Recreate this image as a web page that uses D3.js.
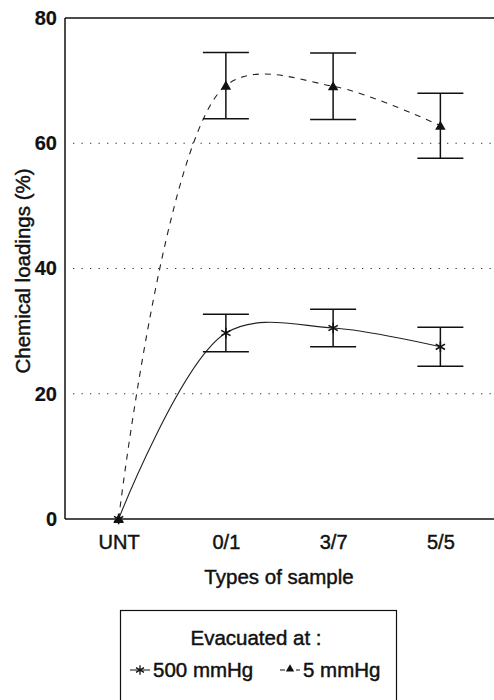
<!DOCTYPE html>
<html>
<head>
<meta charset="utf-8">
<script src="https://cdn.jsdelivr.net/npm/d3@7"></script>
<style>
  body { margin: 0; background: #fff; }
  svg text { font-family: "Liberation Sans", Arial, sans-serif; fill: #111; stroke: #111; stroke-width: 0.45px; }
</style>
</head>
<body>
<div id="chart"></div>
<script>
// data
const categories = ["UNT", "0/1", "3/7", "5/5"];
const low500 = [0, 29.7, 30.5, 27.5];          // 500 mmHg (star, solid)
const low500Err = [0, 3.0, 3.0, 3.1];
const low5 = [0, 69.2, 69.1, 62.8];            // 5 mmHg (triangle, dashed)
const low5Err = [0, 5.3, 5.3, 5.2];
const yTicks = [0, 20, 40, 60, 80];
const gridValues = [20, 40, 60];

const W = 494, H = 700;
const margin = {top: 18, right: 0, bottom: 181, left: 65};

const svg = d3.select("#chart")
  .append("svg")
    .attr("width", W)
    .attr("height", H);

const x = d3.scalePoint()
  .domain(categories)
  .range([margin.left, W - margin.right])
  .padding(0.5);

const y = d3.scaleLinear()
  .domain([0, 80])
  .range([H - margin.bottom, margin.top]);

// dotted grid lines
svg.append("g")
  .selectAll("line")
  .data(gridValues)
  .enter()
  .append("line")
    .attr("x1", margin.left + 8)
    .attr("x2", W)
    .attr("y1", d => y(d))
    .attr("y2", d => y(d))
    .attr("stroke", "#333")
    .attr("stroke-width", 1.2)
    .attr("stroke-dasharray", "1.3,7.2");

// frame: left, top and bottom lines
const frame = svg.append("g").attr("stroke", "#111").attr("stroke-width", 1.5);
frame.append("line").attr("x1", margin.left).attr("x2", margin.left).attr("y1", y(80)).attr("y2", y(0));
frame.append("line").attr("x1", margin.left).attr("x2", W).attr("y1", y(80)).attr("y2", y(80));
frame.append("line").attr("x1", margin.left).attr("x2", W).attr("y1", y(0)).attr("y2", y(0));

// y axis labels
const yAxis = d3.axisLeft(y).tickValues(yTicks).tickSize(0).tickPadding(8);
svg.append("g")
  .attr("transform", "translate(" + margin.left + ",0)")
  .call(yAxis)
  .call(g => g.select(".domain").remove())
  .selectAll("text")
    .style("font-size", "20px")
    .style("font-weight", "bold")
    .style("stroke-width", "0.2px")
    .attr("fill", "#111");

// x axis labels
const xAxis = d3.axisBottom(x).tickSize(0).tickPadding(16);
svg.append("g")
  .attr("transform", "translate(0," + y(0) + ")")
  .call(xAxis)
  .call(g => g.select(".domain").remove())
  .selectAll("text")
    .style("font-size", "20px")
    .attr("fill", "#111");

// axis titles
svg.append("text")
  .attr("x", 279)
  .attr("y", 584)
  .attr("text-anchor", "middle")
  .style("font-size", "20.5px")
  .text("Types of sample");

svg.append("text")
  .attr("transform", "translate(30,271) rotate(-90)")
  .attr("text-anchor", "middle")
  .style("font-size", "20.5px")
  .text("Chemical loadings (%)");

// curves
const line = d3.line()
  .x((d, i) => x(categories[i]))
  .y(d => y(d))
  .curve(d3.curveCatmullRom.alpha(0.5));

svg.append("path")
  .datum(low5)
  .attr("d", line)
  .attr("fill", "none")
  .attr("stroke", "#222")
  .attr("stroke-width", 1.1)
  .attr("stroke-dasharray", "6,6");

svg.append("path")
  .datum(low500)
  .attr("d", line)
  .attr("fill", "none")
  .attr("stroke", "#222")
  .attr("stroke-width", 1.1);

// error bars
function errorBars(values, errs) {
  const g = svg.append("g").attr("stroke", "#111").attr("stroke-width", 1.5);
  const data = values.map((v, i) => ({c: categories[i], v: v, e: errs[i]})).filter(d => d.e > 0);
  g.selectAll("line.v").data(data).enter().append("line")
    .attr("x1", d => x(d.c)).attr("x2", d => x(d.c))
    .attr("y1", d => y(d.v + d.e)).attr("y2", d => y(d.v - d.e));
  g.selectAll("line.t").data(data).enter().append("line")
    .attr("x1", d => x(d.c) - 23).attr("x2", d => x(d.c) + 23)
    .attr("y1", d => y(d.v + d.e)).attr("y2", d => y(d.v + d.e));
  g.selectAll("line.b").data(data).enter().append("line")
    .attr("x1", d => x(d.c) - 23).attr("x2", d => x(d.c) + 23)
    .attr("y1", d => y(d.v - d.e)).attr("y2", d => y(d.v - d.e));
}
errorBars(low5, low5Err);
errorBars(low500, low500Err);

// markers
const tri = d3.symbol().type(d3.symbolTriangle).size(48);
const star = d3.symbol().type(d3.symbolAsterisk).size(80);

svg.append("g")
  .selectAll("path")
  .data(low5)
  .enter()
  .append("path")
    .attr("d", tri)
    .attr("transform", (d, i) => "translate(" + x(categories[i]) + "," + (y(d) + 1) + ")")
    .attr("fill", "#111");

svg.append("g")
  .selectAll("path")
  .data(low500)
  .enter()
  .append("path")
    .attr("d", star)
    .attr("transform", (d, i) => "translate(" + x(categories[i]) + "," + y(d) + ")")
    .attr("fill", "none")
    .attr("stroke", "#111")
    .attr("stroke-width", 1.6);

// legend
const legend = svg.append("g");
legend.append("rect")
  .attr("x", 120.5)
  .attr("y", 610.5)
  .attr("width", 276)
  .attr("height", 100)
  .attr("fill", "none")
  .attr("stroke", "#111")
  .attr("stroke-width", 1.2);

legend.append("text")
  .attr("x", 256)
  .attr("y", 645)
  .attr("text-anchor", "middle")
  .style("font-size", "20.5px")
  .text("Evacuated at :");

legend.append("line").attr("x1", 130).attr("x2", 150).attr("y1", 670).attr("y2", 670)
  .attr("stroke", "#111").attr("stroke-width", 1);
legend.append("path").attr("d", d3.symbol().type(d3.symbolAsterisk).size(60))
  .attr("transform", "translate(140,670)")
  .attr("fill", "none").attr("stroke", "#111").attr("stroke-width", 1.3);
legend.append("text").attr("x", 153).attr("y", 677)
  .style("font-size", "20.5px").text("500 mmHg");

legend.append("line").attr("x1", 280).attr("x2", 300).attr("y1", 670).attr("y2", 670)
  .attr("stroke", "#111").attr("stroke-width", 1).attr("stroke-dasharray", "5,3");
legend.append("path").attr("d", d3.symbol().type(d3.symbolTriangle).size(30))
  .attr("transform", "translate(290,669)")
  .attr("fill", "#111");
legend.append("text").attr("x", 303).attr("y", 677)
  .style("font-size", "20.5px").text("5 mmHg");
</script>
</body>
</html>
